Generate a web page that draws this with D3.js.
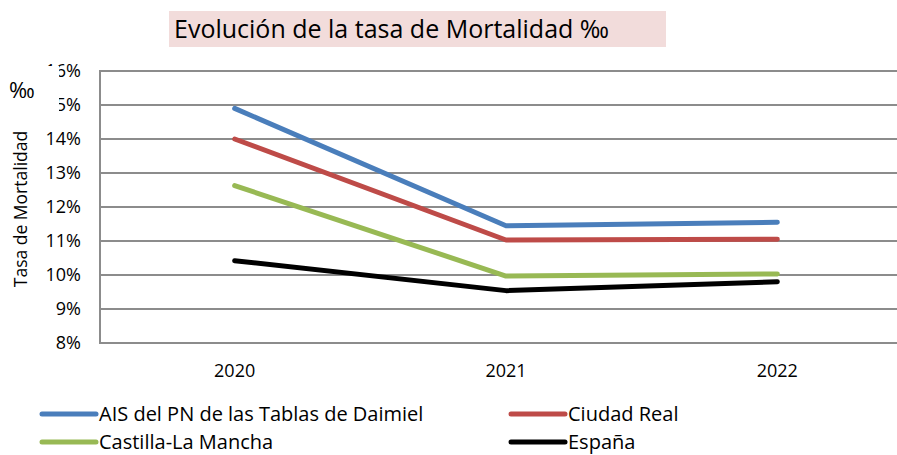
<!DOCTYPE html>
<html>
<head>
<meta charset="utf-8">
<script src="https://cdn.jsdelivr.net/npm/d3@7"></script>
<style>
  body { margin: 0; background: #fff; }
  text { font-family: "Open Sans", "Noto Sans", sans-serif; }
</style>
</head>
<body>
<svg id="chart" width="897" height="455"></svg>
<script>
// chart data
var years = ["2020", "2021", "2022"];
var seriesNames = ["AIS del PN de las Tablas de Daimiel", "Ciudad Real", "Castilla-La Mancha", "España"];
var aisValues = [14.9, 11.45, 11.55];
var ciudadRealValues = [14.0, 11.03, 11.05];
var clmValues = [12.63, 9.97, 10.03];
var espanaValues = [10.42, 9.54, 9.8];
var yTicks = [8, 9, 10, 11, 12, 13, 14, 15, 16];
var seriesColors = ["#4a7ebb", "#be4b48", "#98b954", "#000000"];

var series = [aisValues, ciudadRealValues, clmValues, espanaValues];

var svg = d3.select("#chart");

var x = d3.scaleBand()
    .domain(years)
    .range([99, 913]);

var y = d3.scaleLinear()
    .domain([8, 16])
    .range([343, 71]);

// title box
svg.append("rect")
    .attr("x", 169)
    .attr("y", 11)
    .attr("width", 497)
    .attr("height", 36)
    .attr("fill", "#f2dcdb");
svg.append("text")
    .attr("x", 174)
    .attr("y", 38)
    .attr("font-size", 25)
    .attr("fill", "#000")
    .text("Evolución de la tasa de Mortalidad ‰");

// gridlines
svg.append("g")
    .selectAll("line")
    .data(yTicks)
    .enter().append("line")
    .attr("x1", 99)
    .attr("x2", 913)
    .attr("y1", function(d){ return y(d); })
    .attr("y2", function(d){ return y(d); })
    .attr("stroke", "#8c8c8c")
    .attr("stroke-width", 2);

// left axis line
svg.append("line")
    .attr("x1", 100).attr("x2", 100)
    .attr("y1", y(16)).attr("y2", y(8))
    .attr("stroke", "#8c8c8c")
    .attr("stroke-width", 2);

// y tick labels
svg.append("g")
    .selectAll("text")
    .data(yTicks)
    .enter().append("text")
    .attr("x", 81)
    .attr("y", function(d){ return y(d); })
    .attr("dy", "0.35em")
    .attr("text-anchor", "end")
    .attr("font-size", 18)
    .text(function(d){ return d + "%"; });

// x labels
svg.append("g")
    .selectAll("text")
    .data(years)
    .enter().append("text")
    .attr("x", function(d){ return x(d) + x.bandwidth() / 2; })
    .attr("y", 377)
    .attr("text-anchor", "middle")
    .attr("font-size", 18)
    .text(function(d){ return d; });

// lines
var line = d3.line()
    .x(function(d, i){ return x(years[i]) + x.bandwidth() / 2; })
    .y(function(d){ return y(d); });

svg.append("g")
    .selectAll("path")
    .data(series)
    .enter().append("path")
    .attr("d", line)
    .attr("fill", "none")
    .attr("stroke", function(d, i){ return seriesColors[i]; })
    .attr("stroke-width", 5)
    .attr("stroke-linecap", "round")
    .attr("stroke-linejoin", "round");

// y axis title
svg.append("text")
    .attr("transform", "translate(27,209) rotate(-90)")
    .attr("text-anchor", "middle")
    .attr("font-size", 17.5)
    .text("Tasa de Mortalidad");

// unit label, its white box hides part of the top tick labels
svg.append("rect")
    .attr("x", 0).attr("y", 66)
    .attr("width", 59).attr("height", 48)
    .attr("fill", "#fff");
svg.append("text")
    .attr("x", 9)
    .attr("y", 98)
    .attr("font-size", 22)
    .text("‰");

// legend
var legendPos = [[42, 414], [511, 414], [42, 442], [511, 442]];
var legend = svg.append("g")
    .selectAll("g")
    .data(seriesNames)
    .enter().append("g")
    .attr("transform", function(d, i){ return "translate(" + legendPos[i][0] + "," + legendPos[i][1] + ")"; });

legend.append("line")
    .attr("x1", 0).attr("x2", 54)
    .attr("stroke", function(d, i){ return seriesColors[i]; })
    .attr("stroke-width", 5)
    .attr("stroke-linecap", "round");

legend.append("text")
    .attr("x", 57)
    .attr("dy", "0.35em")
    .attr("font-size", 20)
    .text(function(d){ return d; });
</script>
</body>
</html>
